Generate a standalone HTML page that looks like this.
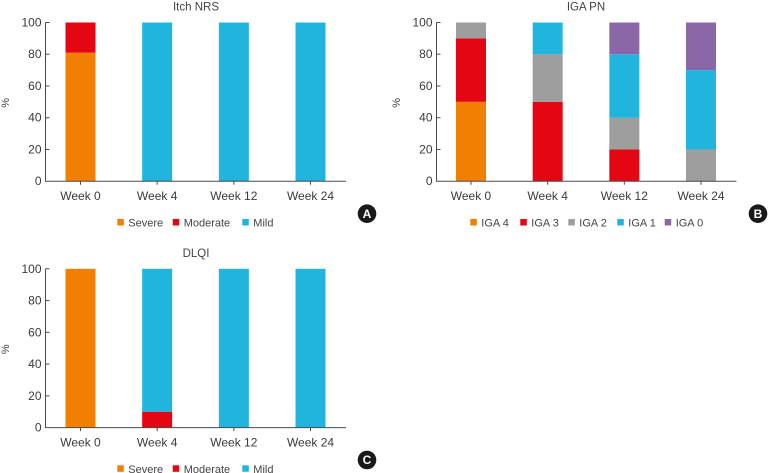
<!DOCTYPE html>
<html>
<head>
<meta charset="utf-8">
<title>Stacked bar charts</title>
<style>
html,body{margin:0;padding:0;background:#fff;width:768px;height:473px;overflow:hidden}
svg{display:block;font-family:"Liberation Sans",sans-serif}
</style>
</head>
<body>
<svg id="figure" width="768" height="473" viewBox="0 0 768 473" xmlns="http://www.w3.org/2000/svg"></svg>
<script>
var categories = ['Week 0', 'Week 4', 'Week 12', 'Week 24'];
var yTicks = [0, 20, 40, 60, 80, 100];

var severityLabels = ['Severe', 'Moderate', 'Mild'];
var iga4Label = 'IGA 4';
var iga3Label = 'IGA 3';
var iga2Label = 'IGA 2';
var iga1Label = 'IGA 1';
var iga0Label = 'IGA 0';

var itchSevere = [81, 0, 0, 0];
var itchModerate = [19, 0, 0, 0];
var itchMild = [0, 100, 100, 100];

var igaFour = [50, 0, 0, 0];
var igaThree = [40, 50, 20, 0];
var igaTwo = [10, 30, 20, 20];
var igaOne = [0, 20, 40, 50];
var igaZero = [0, 0, 20, 30];

var dlqiSevere = [100, 0, 0, 0];
var dlqiModerate = [0, 10, 0, 0];
var dlqiMild = [0, 90, 100, 100];

var ORANGE = '#f28000', RED = '#e50614', GRAY = '#9e9e9e', BLUE = '#21b5dd', PURPLE = '#8a68a8';
var NS = 'http://www.w3.org/2000/svg';
var root = document.getElementById('figure');

function make(tag, attrs, parent, text) {
  var el = document.createElementNS(NS, tag);
  for (var k in attrs) el.setAttribute(k, attrs[k]);
  if (text !== undefined) el.textContent = text;
  (parent || root).appendChild(el);
  return el;
}

function drawChart(cfg) {
  var g = make('g', {}, root);
  
  

  var y = function (v) { return cfg.y0 - (v / 100) * (cfg.y0 - cfg.y100); };
  var x = function (i) { return cfg.x0 + i * cfg.step; };

  var title = make('text', { x: cfg.titleX, y: cfg.y100 - 12, 'text-anchor': 'middle', 'font-size': 11.5, fill: '#444' }, g, cfg.title);
  
  

  categories.forEach(function (cat, i) {
    var base = 0;
    cfg.series.forEach(function (s) {
      var v = s.values[i];
      if (v > 0) {
        var bar = make('rect', { x: x(i) - 15, y: y(base + v), width: 30, height: y(base) - y(base + v), fill: s.color }, g);
        
        
      }
      base += v;
    });
  });

  var yAxis = make('line', { x1: cfg.axisL, x2: cfg.axisL, y1: y(100), y2: y(0), stroke: '#4a4a4a', 'stroke-width': 1 }, g);
  
  
  var xAxis = make('line', { x1: cfg.axisL - 0.5, x2: cfg.axisR, y1: y(0), y2: y(0), stroke: '#4a4a4a', 'stroke-width': 1 }, g);
  
  

  yTicks.forEach(function (t) {
    if (t > 0) {
      var tm = make('line', { x1: cfg.axisL, x2: cfg.axisL + 4, y1: y(t), y2: y(t), stroke: '#4a4a4a', 'stroke-width': 1 }, g);
      
      
    }
    var lb = make('text', { x: cfg.axisL - 4, y: y(t) + 4, 'text-anchor': 'end', 'font-size': 12, fill: '#3a3a3a' }, g, String(t));
    
    
  });

  categories.forEach(function (cat, i) {
    var tm = make('line', { x1: x(i), x2: x(i), y1: y(0), y2: y(0) + 3.5, stroke: '#4a4a4a', 'stroke-width': 1 }, g);
    
    
    var lb = make('text', { x: x(i), y: y(0) + 19, 'text-anchor': 'middle', 'font-size': 12, fill: '#3a3a3a' }, g, cat);
    
    
  });

  var yMid = (y(0) + y(100)) / 2 + 1;
  var yt = make('text', { x: cfg.yTitleX, y: yMid, 'text-anchor': 'middle', 'font-size': 11, fill: '#444', transform: 'rotate(-90 ' + cfg.yTitleX + ' ' + yMid + ')' }, g, '%');
  
  

  cfg.series.forEach(function (s, i) {
    var leg = make('g', {}, g);
    
    
    make('rect', { x: cfg.swatchX[i], y: cfg.legendY, width: 6.5, height: 6.5, fill: s.color }, leg);
    make('text', { x: cfg.swatchX[i] + 11, y: cfg.legendY + 7.5, 'font-size': 11, fill: '#444' }, leg, s.label);
  });

  var badge = make('g', {}, g);
  
  
  make('circle', { cx: cfg.badgeX, cy: cfg.badgeY, r: 9.3, fill: '#1a1a1a' }, badge);
  make('text', { x: cfg.badgeX, y: cfg.badgeY + 4.2, 'text-anchor': 'middle', 'font-size': 12, 'font-weight': 'bold', fill: '#fff' }, badge, cfg.badge);
}

drawChart({
  id: 'itch-nrs', title: 'Itch NRS', titleX: 196, badge: 'A',
  x0: 80.5, step: 76.67, y0: 181.2, y100: 22.5, axisL: 45.5, axisR: 346, yTitleX: 9,
  legendY: 219, swatchX: [117.3, 172.7, 242.3], badgeX: 367, badgeY: 213.7,
  series: [
    { label: severityLabels[0], color: ORANGE, values: itchSevere },
    { label: severityLabels[1], color: RED, values: itchModerate },
    { label: severityLabels[2], color: BLUE, values: itchMild }
  ]
});

drawChart({
  id: 'iga-pn', title: 'IGA PN', titleX: 586, badge: 'B',
  x0: 471, step: 76.67, y0: 181.2, y100: 22.5, axisL: 436.5, axisR: 736.5, yTitleX: 400,
  legendY: 219, swatchX: [470.3, 520.3, 568.3, 617.3, 664.7], badgeX: 758, badgeY: 213.7,
  series: [
    { label: iga4Label, color: ORANGE, values: igaFour },
    { label: iga3Label, color: RED, values: igaThree },
    { label: iga2Label, color: GRAY, values: igaTwo },
    { label: iga1Label, color: BLUE, values: igaOne },
    { label: iga0Label, color: PURPLE, values: igaZero }
  ]
});

drawChart({
  id: 'dlqi', title: 'DLQI', titleX: 196, badge: 'C',
  x0: 80.5, step: 76.67, y0: 427.6, y100: 268.8, axisL: 45.5, axisR: 346, yTitleX: 9,
  legendY: 465.3, swatchX: [117.3, 172.7, 242.3], badgeX: 367, badgeY: 460,
  series: [
    { label: severityLabels[0], color: ORANGE, values: dlqiSevere },
    { label: severityLabels[1], color: RED, values: dlqiModerate },
    { label: severityLabels[2], color: BLUE, values: dlqiMild }
  ]
});
</script>
</body>
</html>
